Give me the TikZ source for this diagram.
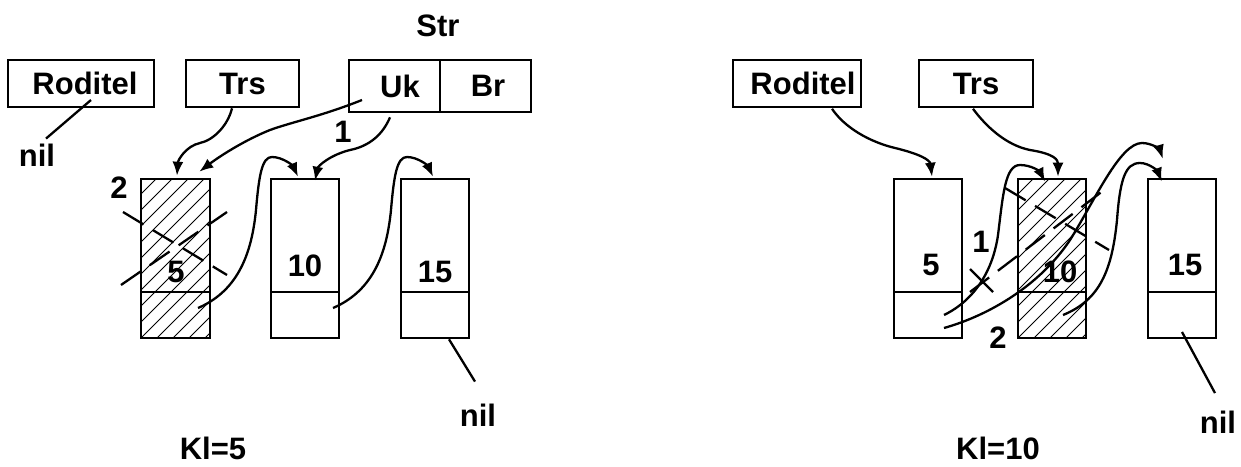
\documentclass[tikz,border=0pt]{standalone}
\usepackage{fontspec}
\setmainfont{Liberation Sans}
\usetikzlibrary{arrows.meta,calc}
\tikzset{
  box/.style={draw, line width=2.6pt, minimum height=47pt, inner sep=0pt},
  cell/.style={draw, line width=2.6pt, minimum width=68pt, inner sep=0pt},
  topcell/.style={cell, minimum height=113pt},
  ptrcell/.style={cell, minimum height=46pt},
  lbl/.style={inner sep=0pt},
  link/.style={line width=2.3pt, -{Latex[length=14pt,width=11pt]}},
  plainline/.style={line width=2.3pt},
  hatchline/.style={line width=0.9pt},
  crossout/.style={line width=2.3pt, dash pattern=on 24pt off 11pt},
}
\begin{document}
\begin{tikzpicture}[x=1pt, y=-1pt, font=\fontsize{31}{36}\selectfont\bfseries]
\useasboundingbox (0,0) rectangle (1241,466);

% ---------------- left part ----------------
\node[box, minimum width=146pt] (LRod) at (81,83.5) {\hspace*{8pt}Roditel};
\node[box, minimum width=113pt] (LTrs) at (242.5,83.5) {Trs};
\node[box, minimum width=91pt, minimum height=52pt] (LUk) at (394.5,86) {\hspace*{11pt}Uk};
\node[box, minimum width=91pt, minimum height=52pt] (LBr) at (485.5,86) {\hspace*{5pt}Br};
\node[lbl] (LStr) at (438,26) {Str};

\begin{scope}
  \clip (141,179) rectangle (210,338);
  \foreach \k in {0,...,16} \draw[hatchline] (-19+\k*16,338) -- ++(200,-200);
\end{scope}
\node[topcell, minimum width=69pt] (L5) at (175.5,235.5) {};
\node[ptrcell, minimum width=69pt] (L5p) at (175.5,315) {};
\node[topcell] (L10) at (305,235.5) {};
\node[ptrcell] (L10p) at (305,315) {};
\node[topcell] (L15) at (435,235.5) {};
\node[ptrcell] (L15p) at (435,315) {};
\node[lbl] (n5L) at (176,272) {5};
\node[lbl] (n10L) at (305,266) {10};
\node[lbl] (n15L) at (435,272) {15};

\node[lbl] (two L) at (119,188) {2};
\node[lbl] (one L) at (343,132) {1};
\node[lbl] (nilL1) at (37,155) {nil};
\node[lbl] (nilL2) at (478,415) {nil};
\node[lbl] (klL) at (213,448) {Kl=5};

\draw[plainline] ($(LRod.center)+(10,16.5)$) -- ($(nilL1.north)+(9,-5)$);
\draw[plainline] ($(L15p.south)+(14,0)$) -- ($(nilL2.north)+(-3,-22)$);

\draw[link] ($(LTrs.south)+(-10.5,0)$) .. controls (228,125) and (214,140) .. (200,143)
  .. controls (186,146) and (178,160) .. ($(L5.north)+(1.5,-2)$);
\draw[link] ($(LUk.center)+(-32.5,14)$) .. controls (322,116) and (292,122) .. (270,130)
  .. controls (245,140) and (220,156) .. ($(L5.north east)+(-12,-6)$);
\draw[link] ($(LUk.south)+(-4.5,4)$) .. controls (383,134) and (370,146) .. (350,150)
  .. controls (330,155) and (318,166) .. ($(L10.north)+(10,3)$);
\draw[link] ($(L5p.center)+(22.5,-7)$) .. controls (240,290) and (252,250) .. (256,210)
  .. controls (259,175) and (262,157) .. (272,157)
  .. controls (283,157) and (293,166) .. ($(L10.north)+(-7,-1)$);
\draw[link] ($(L10p.center)+(28,-7)$) .. controls (375,290) and (387,250) .. (391,210)
  .. controls (394,175) and (397,157) .. (407,157)
  .. controls (418,157) and (428,166) .. ($(L15.north)+(-2,-1)$);

\draw[crossout] (123,212) -- (227,275);
\draw[crossout] (121,285) -- (227,212);

% ---------------- right part ----------------
\node[box, minimum width=128pt] (RRod) at (797,83.5) {\hspace*{12pt}Roditel};
\node[box, minimum width=114pt] (RTrs) at (976,83.5) {Trs};

\begin{scope}
  \clip (1018,179) rectangle (1086,338);
  \foreach \k in {0,...,16} \draw[hatchline] (858+\k*16,338) -- ++(200,-200);
\end{scope}
\node[topcell] (R5) at (928,235.5) {};
\node[ptrcell] (R5p) at (928,315) {};
\node[topcell] (R10) at (1052,235.5) {};
\node[ptrcell] (R10p) at (1052,315) {};
\node[topcell] (R15) at (1182,235.5) {};
\node[ptrcell] (R15p) at (1182,315) {};
\node[lbl] (n5R) at (931,265) {5};
\node[lbl] (n10R) at (1060,272) {10};
\node[lbl] (n15R) at (1185,265) {15};

\node[lbl] (one R) at (981,242) {1};
\node[lbl] (two R) at (998,338) {2};
\node[lbl] (nilR) at (1218,422) {nil};
\node[lbl] (klR) at (998,448) {Kl=10};

\draw[plainline] ($(R15p.center)+(0,17)$) -- ($(nilR.north)+(-3,-17.5)$);

\draw[link] ($(RRod.south)+(35,0.5)$) .. controls (845,128) and (870,142) .. (895,148)
  .. controls (920,154) and (930,160) .. ($(R5.north)+(4,-1)$);
\draw[link] ($(RTrs.south)+(-3,0.5)$) .. controls (985,125) and (1005,145) .. (1030,150)
  .. controls (1055,154) and (1058,160) .. ($(R10.north)+(6,-1)$);
\draw[link] ($(R5p.center)+(16,0)$) .. controls (975,300) and (993,270) .. (998,235)
  .. controls (1003,195) and (1005,165) .. (1020,165)
  .. controls (1032,165) and (1040,172) .. ($(R10.north)+(-7,4)$);
\draw[link] ($(R5p.center)+(16,13)$) .. controls (990,315) and (1040,285) .. (1070,240)
  .. controls (1095,200) and (1120,143) .. (1142,143)
  .. controls (1152,143) and (1160,150) .. ($(R15.north west)+(16,-19)$);
\draw[link] ($(R10p.center)+(11,0)$) .. controls (1100,300) and (1112,270) .. (1117,220)
  .. controls (1120,180) and (1125,163) .. (1140,163)
  .. controls (1150,163) and (1158,172) .. ($(R15.north west)+(15,4)$);

\draw[crossout] (1005,188) -- (1109,250);
\draw[crossout] (970,292) -- (1108,187);
\draw[plainline] (970,269) -- (993,292);
\end{tikzpicture}
\end{document}
